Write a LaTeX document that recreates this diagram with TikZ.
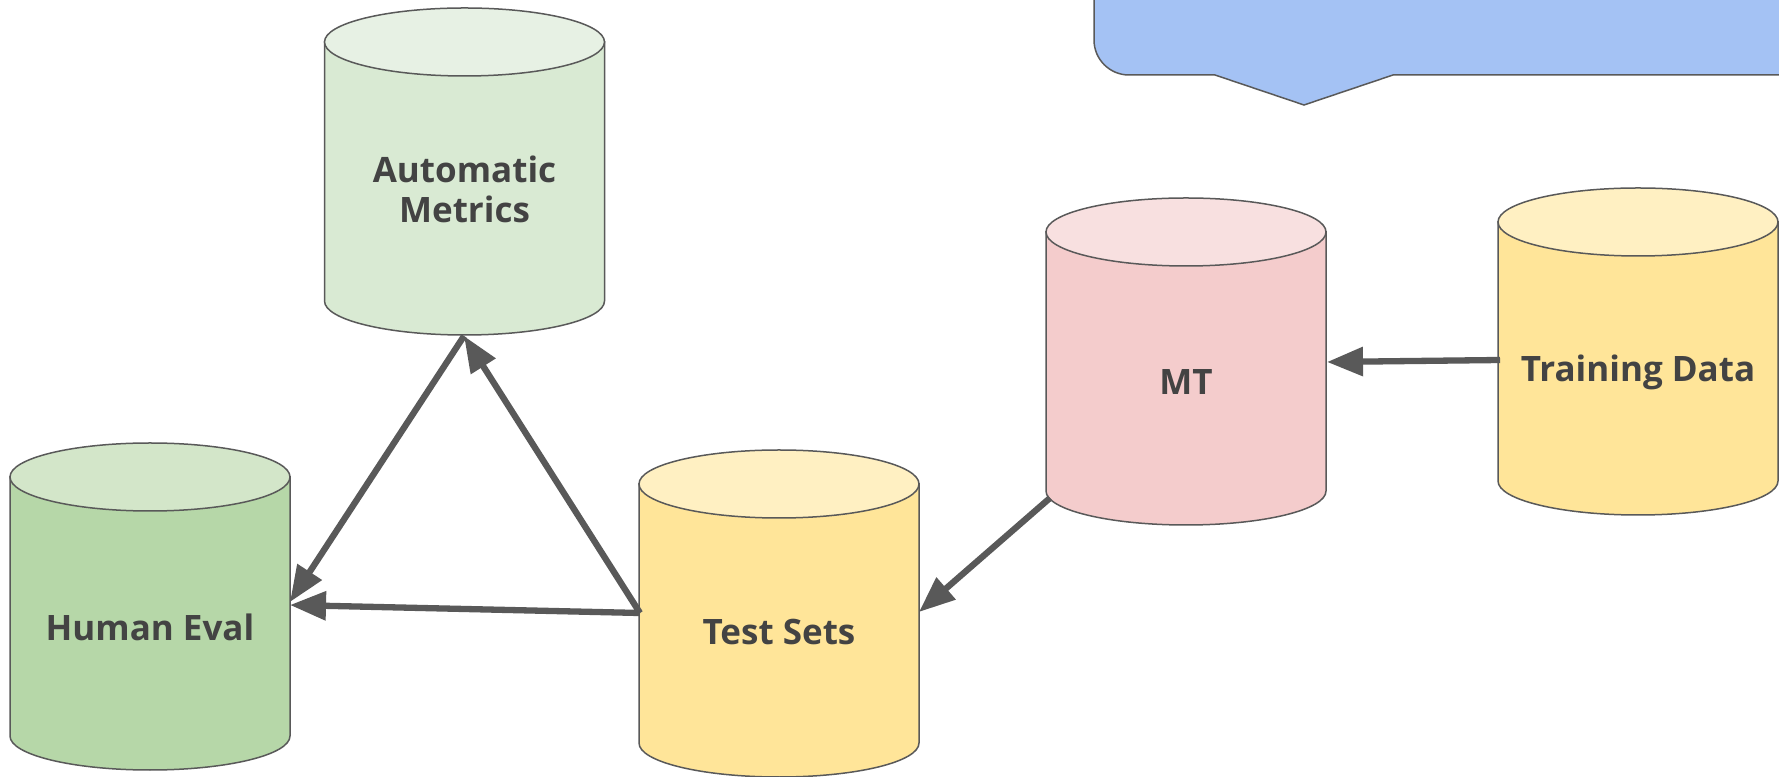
\documentclass[tikz,border=0pt]{standalone}
\usepackage{fontspec}
\setmainfont[Ligatures={NoCommon,NoDiscretionary}]{Open Sans}
\usetikzlibrary{arrows.meta}
\definecolor{strokegray}{HTML}{595959}
\definecolor{textgray}{HTML}{434343}
\definecolor{amBody}{HTML}{D9EAD3}
\definecolor{amTop}{HTML}{E7F1E4}
\definecolor{heBody}{HTML}{B6D7A8}
\definecolor{heTop}{HTML}{D3E6C9}
\definecolor{ylBody}{HTML}{FFE599}
\definecolor{ylTop}{HTML}{FFF0C2}
\definecolor{mtBody}{HTML}{F4CCCC}
\definecolor{mtTop}{HTML}{F8E0E0}
\definecolor{calloutBlue}{HTML}{A4C2F4}
\newcommand\mycyl[5]{%
  \path[cylshape, fill=#4] (#1-140,#2) -- (#1-140,#3)
    arc[start angle=180, end angle=360, x radius=140, y radius=34]
    -- (#1+140,#2) -- cycle;
  \path[cylshape, fill=#5] (#1,#2) ellipse[x radius=140, y radius=34];
}
\begin{document}
\begin{tikzpicture}[x=1pt, y=1pt,
  cylshape/.style={draw=strokegray, line width=1.5pt},
  label/.style={text=textgray, font=\fontsize{35}{40}\selectfont\bfseries, align=center, inner sep=0pt},
  conn/.style={draw=strokegray, line width=6.3pt, -{Triangle[length=36pt, width=28pt]}}]
\useasboundingbox (0,0) rectangle (1779,776);
\clip (0,0) rectangle (1779,776);
\fill[white] (0,0) rectangle (1779,776);

% callout
\path[draw=strokegray, line width=1.5pt, fill=calloutBlue]
  (1094,820) -- (1094,736) arc[start angle=180, end angle=270, radius=35]
  -- (1215,701) -- (1304,671) -- (1393,701) -- (1850,701) -- (1850,820) -- cycle;

% cylinders
\mycyl{464.5}{734}{475}{amBody}{amTop}
\mycyl{150}{299}{40}{heBody}{heTop}
\mycyl{779}{292}{33}{ylBody}{ylTop}
\mycyl{1186}{544}{285}{mtBody}{mtTop}
\mycyl{1638}{554}{295}{ylBody}{ylTop}

% labels
\node[label] (am) at (464.5,587) {Automatic\\Metrics};
\node[label] (he) at (150,149) {Human Eval};
\node[label] (ts) at (779,144) {Test Sets};
\node[label] (mt) at (1186,394) {MT};
\node[label] (td) at (1638,404) {Training Data};

% connection points
\coordinate (tdL) at (1500,416);
\coordinate (mtR) at (1327,414);
\coordinate (mtB) at (1050,278);
\coordinate (tsR) at (919,164);
\coordinate (tsL) at (640,163);
\coordinate (heR1) at (290,171);
\coordinate (heR2) at (290,174);
\coordinate (amB) at (464,440);

% connectors
\draw[conn] (tdL) -- (mtR);
\draw[conn] (mtB) -- (tsR);
\draw[conn] (tsL) -- (heR1);
\draw[conn] (tsL) -- (amB);
\draw[conn] (amB) -- (heR2);
\end{tikzpicture}
\end{document}
